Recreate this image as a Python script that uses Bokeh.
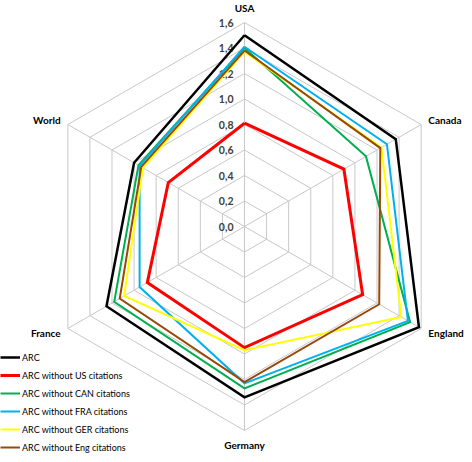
import numpy as np
from bokeh.plotting import figure
from bokeh.models import Range1d, Legend, LegendItem
from bokeh.core.properties import value
from bokeh.embed import file_html
from bokeh.resources import INLINE

categories = ["USA", "Canada", "England", "Germany", "France", "World"]
tick_values = [0.0, 0.2, 0.4, 0.6, 0.8, 1.0, 1.2, 1.4, 1.6]
tick_labels = ["0,0", "0,2", "0,4", "0,6", "0,8", "1,0", "1,2", "1,4", "1,6"]

series_names = [
    "ARC",
    "ARC without US citations",
    "ARC without CAN citations",
    "ARC without FRA citations",
    "ARC without GER citations",
    "ARC without Eng citations",
]
arc = [1.50, 1.37, 1.58, 1.34, 1.25, 1.00]
arc_no_us = [0.81, 0.90, 1.07, 0.95, 0.88, 0.69]
arc_no_can = [1.40, 1.10, 1.50, 1.27, 1.18, 0.96]
arc_no_fra = [1.41, 1.29, 1.48, 1.23, 0.95, 0.95]
arc_no_ger = [1.37, 1.24, 1.42, 0.97, 1.09, 0.92]
arc_no_eng = [1.38, 1.23, 1.22, 1.22, 1.13, 0.935]
series_values = [arc, arc_no_us, arc_no_can, arc_no_fra, arc_no_ger, arc_no_eng]
series_colors = ["#000000", "#ff0000", "#00b050", "#00b0f0", "#ffff00", "#984807"]
series_widths = [2.5, 3, 2, 2, 2, 2]

PX_PER_UNIT = 127.5
W, H = 464, 454
cx_px, cy_px = 244, 226  # radar center in figure pixels

p = figure(width=W, height=H, output_backend="svg", toolbar_location=None,
           x_range=Range1d(-cx_px / PX_PER_UNIT, (W - cx_px) / PX_PER_UNIT),
           y_range=Range1d(-(H - cy_px) / PX_PER_UNIT, cy_px / PX_PER_UNIT),
           min_border=0)
p.axis.visible = False
p.grid.visible = False
p.outline_line_color = None
p.background_fill_color = "white"

n = len(categories)
angles = np.deg2rad(90 - 60 * np.arange(n))
cosa, sina = np.cos(angles), np.sin(angles)

grid_color = "#c8c8c8"
rmax = tick_values[-1]
# spokes
p.segment(x0=np.zeros(n), y0=np.zeros(n), x1=rmax * cosa, y1=rmax * sina,
          line_color=grid_color, line_width=1)
# hexagon rings
for t in tick_values[1:]:
    xs = list(t * cosa) + [t * cosa[0]]
    ys = list(t * sina) + [t * sina[0]]
    p.line(xs, ys, line_color=grid_color, line_width=1)

# tick labels
p.text(x=np.zeros(len(tick_values)), y=tick_values, text=tick_labels,
       x_offset=-11, text_align="right", text_baseline="middle",
       text_font=value("Lato"), text_font_style="bold", text_font_size="10.5px",
       text_color="#404040")

# category labels
lab_r = 1.665
aligns = ["center", "left", "left", "center", "right", "right"]
lab_x = lab_r * cosa
lab_y = lab_r * sina
lab_y[0] = 1.71
lab_y[3] = -1.71
for i in range(n):
    p.text(x=[lab_x[i]], y=[lab_y[i]], text=[categories[i]],
           text_align=aligns[i], text_baseline="middle",
           text_font=value("Lato"), text_font_style="bold", text_font_size="10px",
           text_color="#000000")

items = []
for name, vals, col, lw in zip(series_names, series_values, series_colors, series_widths):
    v = np.array(vals)
    xs = list(v * cosa) + [v[0] * cosa[0]]
    ys = list(v * sina) + [v[0] * sina[0]]
    r = p.line(xs, ys, line_color=col, line_width=lw, line_join="miter")
    items.append(LegendItem(label=name, renderers=[r]))

legend = Legend(items=items, location=(0, 0), orientation="vertical",
                glyph_width=20, glyph_height=14, label_height=14, spacing=4,
                label_standoff=2, padding=0, margin=0,
                label_text_font="Lato", label_text_font_size="9px",
                label_text_color="#000000",
                border_line_color=None, background_fill_alpha=0)
p.add_layout(legend, "center")

open("out.html", "w").write(file_html(p, INLINE))
